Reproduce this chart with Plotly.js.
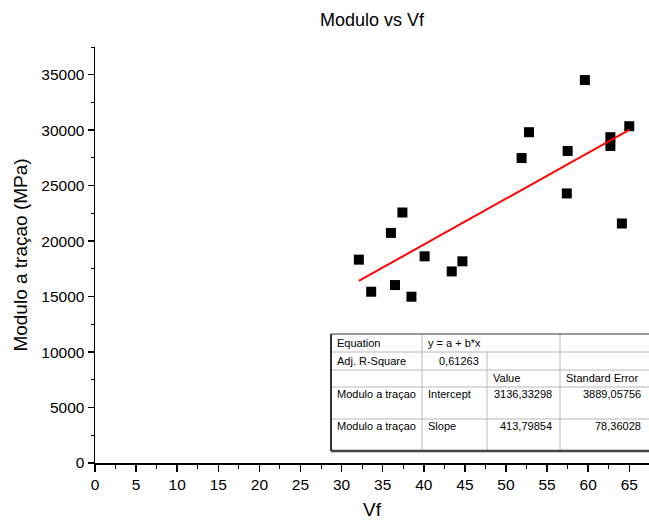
<!DOCTYPE html>
<html>
<head>
<meta charset="utf-8">
<script src="https://cdn.plot.ly/plotly-3.0.1.min.js"></script>
<style>
  html, body { margin: 0; padding: 0; background: #fff; }
  #chart { width: 649px; height: 520px; }
</style>
</head>
<body>
<div id="chart"></div>
<script>
// ---- data ----
const vf = [32.1, 33.6, 36.0, 37.4, 36.5, 38.5, 40.1, 43.4, 44.7, 51.9, 52.8, 57.5, 57.4, 59.6, 62.7, 62.7, 65.0, 64.1];
const modulo = [18330, 15440, 20740, 22580, 16040, 14990, 18630, 17270, 18180, 27490, 29820, 28130, 24300, 34520, 29370, 28580, 30360, 21590];

// linear fit parameters (from the fit table)
const fitIntercept = 3136.33298;
const fitSlope = 413.79854;

// tick values
const xTicks = [0, 5, 10, 15, 20, 25, 30, 35, 40, 45, 50, 55, 60, 65];
const yTicks = [0, 5000, 10000, 15000, 20000, 25000, 30000, 35000];

// fit table contents
const tableRows = [
  ["Equation", "y = a + b*x", "", ""],
  ["Adj. R-Square", "0,61263", "", ""],
  ["", "", "Value", "Standard Error"],
  ["Modulo a traçao", "Intercept", "3136,33298", "3889,05756"],
  ["Modulo a traçao", "Slope", "413,79854", "78,36028"]
];

// ---- layout geometry ----
const M = {l: 95, r: 0, t: 47, b: 57};
const W = 649, H = 520;
const pw = W - M.l - M.r, ph = H - M.t - M.b;
const px = x => (x - M.l) / pw;
const py = y => (H - M.b - y) / ph;

const fitX = [Math.min(...vf), Math.max(...vf)];
const fitY = fitX.map(x => fitIntercept + fitSlope * x);

const traces = [
  {
    x: vf, y: modulo, type: 'scatter', mode: 'markers',
    marker: {symbol: 'square', size: 10, color: '#000'},
    showlegend: false, hoverinfo: 'x+y'
  },
  {
    x: fitX, y: fitY, type: 'scatter', mode: 'lines',
    line: {color: '#ff0000', width: 2},
    showlegend: false
  }
];

// table grid (pixel positions)
const cols = [331, 422, 487, 560, 649];
const rows = [334, 352, 370, 387, 419, 451];
const shapes = [];
const line = (x0, y0, x1, y1, color, width) => shapes.push({
  type: 'line', xref: 'paper', yref: 'paper',
  x0: px(x0), y0: py(y0), x1: px(x1), y1: py(y1),
  line: {color: color, width: width}
});
shapes.push({type: 'rect', xref: 'paper', yref: 'paper',
  x0: px(cols[0]), x1: px(cols[4]), y0: py(rows[5]), y1: py(rows[0]),
  fillcolor: '#fff', line: {width: 0}, layer: 'above'});
const inner = '#b8b8b8';
for (let i = 1; i < 5; i++) line(cols[0], rows[i], cols[4], rows[i], inner, 1);
line(cols[1], rows[0], cols[1], rows[5], inner, 1);
line(cols[2], rows[1], cols[2], rows[5], inner, 1);
line(cols[3], rows[0], cols[3], rows[5], inner, 1);
line(cols[0], rows[0], cols[4], rows[0], '#777', 1.5);
line(cols[0], rows[0], cols[0], rows[5], '#333', 2);
line(cols[0], rows[5], cols[4], rows[5], '#444', 2.5);

const annotations = [];
const tfont = {family: 'Liberation Sans, Arial, sans-serif', size: 11, color: '#000'};
const textY = [343, 361, 378, 394, 426];
const align = [
  ['left', 'left', 'left', 'left'],
  ['left', 'right', 'left', 'left'],
  ['left', 'left', 'left', 'left'],
  ['left', 'left', 'right', 'right'],
  ['left', 'left', 'right', 'right']
];
tableRows.forEach((r, ri) => {
  r.forEach((t, ci) => {
    if (!t) return;
    const a = align[ri][ci];
    const x = a === 'left' ? cols[ci] + 4 : cols[ci + 1] - 6;
    annotations.push({
      text: t, xref: 'paper', yref: 'paper', x: px(x), y: py(textY[ri]),
      xanchor: a, yanchor: 'middle', showarrow: false, font: tfont
    });
  });
});

const font = {family: 'Liberation Sans, Arial, sans-serif', color: '#000'};
const layout = {
  width: W, height: H,
  margin: M,
  paper_bgcolor: '#fff', plot_bgcolor: '#fff',
  font: font,
  title: {text: 'Modulo vs Vf', font: {size: 18, family: font.family, color: '#000'},
    x: px(372), xanchor: 'center', xref: 'paper', y: 1 - 20 / H, yanchor: 'middle'},
  xaxis: {
    range: [0, 67.4], tickvals: xTicks, tickformat: 'd',
    showgrid: false, zeroline: false, showline: true, linecolor: '#000', linewidth: 1.5,
    ticks: 'outside', ticklen: 7, tickwidth: 1.5, tickcolor: '#000',
    tickfont: {size: 15.5, family: font.family, color: '#000'},
    minor: {dtick: 2.5, tick0: 0, ticks: 'outside', ticklen: 4, tickwidth: 1, tickcolor: '#000', showgrid: false},
    title: {text: 'Vf', font: {size: 19, family: font.family, color: '#000'}, standoff: 10}
  },
  yaxis: {
    range: [0, 37500], tickvals: yTicks, tickformat: 'd',
    showgrid: false, zeroline: false, showline: true, linecolor: '#000', linewidth: 1.5,
    ticks: 'outside', ticklen: 6, tickwidth: 1.5, tickcolor: '#000',
    tickfont: {size: 15.5, family: font.family, color: '#000'},
    minor: {dtick: 2500, tick0: 0, ticks: 'outside', ticklen: 3, tickwidth: 1, tickcolor: '#000', showgrid: false},
    title: {text: 'Modulo a traçao (MPa)', font: {size: 19, family: font.family, color: '#000'}, standoff: 8}
  },
  shapes: shapes,
  annotations: annotations
};

Plotly.newPlot('chart', traces, layout, {displayModeBar: false, staticPlot: true});
</script>
</body>
</html>
